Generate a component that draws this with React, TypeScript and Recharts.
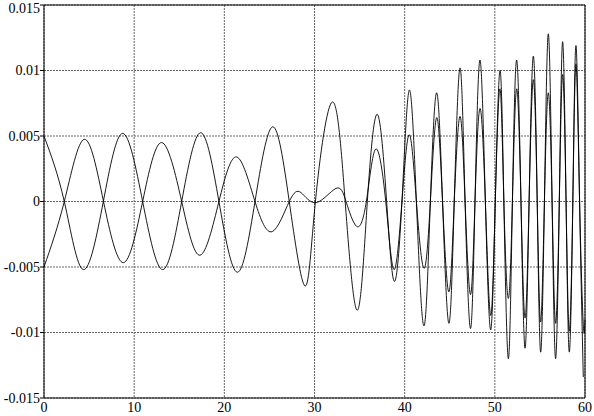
import { LineChart, Line, XAxis, YAxis, CartesianGrid, ReferenceArea } from "recharts";

// first trace: peaks, troughs and zero crossings
const timesA = [
  0, 2.25, 4.36, 6.58, 8.73, 10.94, 13.16, 15.27, 17.37, 19.4, 21.44, 23.4, 25.36, 27.2,
  28.95, 30.1, 31.98, 33.4, 34.75, 35.86, 36.97, 38.0, 38.85, 39.7, 40.51, 41.3, 42.14,
  42.85, 43.55, 44.2, 44.9, 45.5, 46.14, 46.7, 47.3, 47.8, 48.35, 48.95, 49.54, 50.05,
  50.57, 51.0, 51.5, 51.95, 52.42, 52.9, 53.35, 53.8, 54.27, 54.7, 55.08, 55.5, 55.93,
  56.35, 56.74, 57.15, 57.52, 57.9, 58.26, 58.65, 59.0, 59.4, 59.81,
];
const valuesA = [
  0.005, 0, -0.0052, 0, 0.0052, 0, -0.0052, 0, 0.00525, 0, -0.0054, 0, 0.0057, 0,
  -0.00645, 0, 0.0076, 0, -0.0083, 0, 0.00665, 0, -0.0061, 0, 0.0085, 0, -0.0095,
  0, 0.0083, 0, -0.0093, 0, 0.0102, 0, -0.0097, 0, 0.0108, 0, -0.0098, 0,
  0.01, 0, -0.012, 0, 0.0108, 0, -0.0112, 0, 0.0111, 0, -0.0115, 0, 0.0128,
  0, -0.012, 0, 0.0122, 0, -0.0115, 0, 0.0119, 0, -0.0134,
];

// second trace
const timesB = [
  0, 2.25, 4.47, 6.6, 8.8, 10.94, 13.05, 15.27, 17.3, 19.4, 21.37, 23.4, 25.3, 27.2,
  28.5, 30.2, 32.38, 33.5, 34.68, 35.75, 36.78, 37.9, 38.82, 39.7, 40.51, 41.3, 42.14,
  42.85, 43.55, 44.2, 44.9, 45.5, 46.14, 46.7, 47.3, 47.8, 48.35, 48.95, 49.54, 50.05,
  50.57, 51.0, 51.5, 51.95, 52.42, 52.9, 53.35, 53.8, 54.27, 54.7, 55.08, 55.5, 55.93,
  56.35, 56.74, 57.15, 57.52, 57.9, 58.26, 58.65, 59.0, 59.4, 59.81, 60,
];
const valuesB = [
  -0.005, 0, 0.00475, 0, -0.00467, 0, 0.0045, 0, -0.0041, 0, 0.0034, 0, -0.0023, 0,
  0.00068, -0.00008, 0.001, 0, -0.0019, 0, 0.004, 0, -0.0052, 0, 0.0051, 0, -0.0051,
  0, 0.0064, 0, -0.0069, 0, 0.0065, 0, -0.0071, 0, 0.0071, 0, -0.0087, 0,
  0.0086, 0, -0.0074, 0, 0.0086, 0, -0.0089, 0, 0.0093, 0, -0.0092, 0, 0.0083,
  0, -0.0093, 0, 0.0097, 0, -0.0099, 0, 0.0105, 0, -0.0094, -0.009,
];

const xTicks = [0, 10, 20, 30, 40, 50, 60];
const yTicks = [-0.015, -0.01, -0.005, 0, 0.005, 0.01, 0.015];

const traceA = timesA.map((t, i) => ({ t, v: valuesA[i] }));
const traceB = timesB.map((t, i) => ({ t, v: valuesB[i] }));

const tickFont = { fontSize: 14, fontFamily: "Liberation Serif, Times New Roman, serif", fill: "#000" };

export default function App() {
  return (
    <div style={{ position: "absolute", left: 0, top: 0, background: "#fff" }}>
      <LineChart width={594} height={416} margin={{ top: 5, right: 9, bottom: 0, left: 0 }}>
        <CartesianGrid stroke="#666" strokeDasharray="2 1" />
        <XAxis
          dataKey="t"
          type="number"
          domain={[0, 60]}
          ticks={xTicks}
          height={18}
          tick={tickFont}
          tickLine={false}
          tickSize={0}
          tickMargin={4}
          axisLine={false}
          allowDuplicatedCategory={false}
        />
        <YAxis
          type="number"
          domain={[-0.015, 0.015]}
          ticks={yTicks}
          width={44}
          tick={tickFont}
          tickSize={4}
          tickMargin={0}
          tickLine={{ stroke: "#000" }}
          axisLine={false}
          tickFormatter={(v: number) => String(v)}
        />
        <YAxis
          yAxisId="right"
          orientation="right"
          mirror
          type="number"
          domain={[-0.015, 0.015]}
          ticks={yTicks}
          width={0}
          tick={false}
          tickSize={5}
          tickLine={{ stroke: "#000" }}
          axisLine={false}
        />
        <ReferenceArea x1={0} x2={60} y1={-0.015} y2={0.015} fill="none" stroke="#000" strokeWidth={1} />
        <Line
          data={traceA}
          dataKey="v"
          type="natural"
          stroke="#000"
          strokeWidth={0.9}
          dot={false}
          activeDot={false}
          isAnimationActive={false}
        />
        <Line
          data={traceB}
          dataKey="v"
          type="natural"
          stroke="#000"
          strokeWidth={0.9}
          dot={false}
          activeDot={false}
          isAnimationActive={false}
        />
      </LineChart>
    </div>
  );
}
